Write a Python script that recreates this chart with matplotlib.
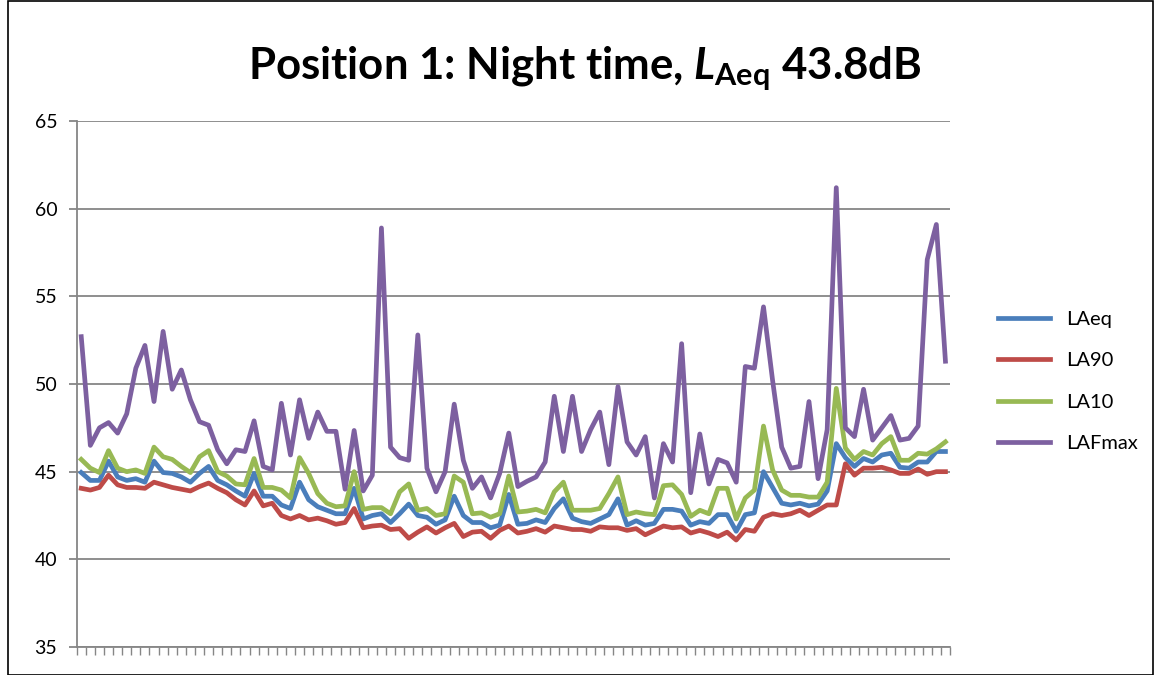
import matplotlib
matplotlib.use("Agg")
import matplotlib.pyplot as plt
import numpy as np

# 5-minute readings through the night (96 intervals)
laeq = [44.95, 44.5, 44.5, 45.6, 44.7, 44.5, 44.6, 44.4, 45.6, 44.95,
        44.9, 44.7, 44.4, 44.9, 45.3, 44.5, 44.25, 43.9, 43.6, 44.9,
        43.6, 43.6, 43.1, 42.9, 44.4, 43.4, 43.0, 42.8, 42.6, 42.6,
        44.05, 42.3, 42.5, 42.6, 42.1, 42.6, 43.15, 42.5, 42.4, 42.0,
        42.25, 43.6, 42.5, 42.1, 42.1, 41.8, 41.95, 43.7, 42.0, 42.05,
        42.25, 42.1, 42.9, 43.45, 42.35, 42.15, 42.05, 42.3, 42.55, 43.45,
        41.95, 42.2, 41.95, 42.05, 42.85, 42.85, 42.75, 41.95, 42.15, 42.05,
        42.55, 42.55, 41.6, 42.55, 42.65, 45.0, 44.1, 43.2, 43.1, 43.2,
        43.05, 43.15, 43.9, 46.6, 45.8, 45.3, 45.75, 45.55, 45.95, 46.05,
        45.25, 45.2, 45.55, 45.55, 46.15, 46.15]

la90 = [44.05, 43.95, 44.1, 44.8, 44.25, 44.1, 44.1, 44.05, 44.4, 44.25,
        44.1, 44.0, 43.9, 44.15, 44.35, 44.05, 43.8, 43.4, 43.1, 43.9,
        43.05, 43.2, 42.5, 42.3, 42.5, 42.25, 42.35, 42.2, 42.0, 42.1,
        42.9, 41.8, 41.9, 41.95, 41.7, 41.75, 41.2, 41.55, 41.85, 41.5,
        41.8, 42.05, 41.3, 41.55, 41.6, 41.2, 41.65, 41.9, 41.5, 41.6,
        41.75, 41.55, 41.9, 41.8, 41.7, 41.7, 41.6, 41.85, 41.8, 41.8,
        41.65, 41.75, 41.4, 41.65, 41.9, 41.8, 41.85, 41.5, 41.65, 41.5,
        41.3, 41.55, 41.1, 41.7, 41.6, 42.4, 42.6, 42.5, 42.6, 42.8,
        42.5, 42.8, 43.1, 43.1, 45.45, 44.8, 45.2, 45.2, 45.25, 45.1,
        44.9, 44.9, 45.15, 44.85, 45.0, 45.0]

la10 = [45.7, 45.2, 44.95, 46.2, 45.2, 45.0, 45.1, 44.9, 46.4, 45.85,
        45.7, 45.3, 44.95, 45.85, 46.2, 45.0, 44.75, 44.3, 44.25, 45.75,
        44.1, 44.1, 43.95, 43.5, 45.8, 44.9, 43.75, 43.2, 43.0, 43.05,
        45.0, 42.85, 42.95, 42.95, 42.6, 43.85, 44.3, 42.8, 42.9, 42.5,
        42.6, 44.75, 44.4, 42.6, 42.65, 42.4, 42.6, 44.75, 42.7, 42.75,
        42.85, 42.65, 43.85, 44.4, 42.8, 42.8, 42.8, 42.9, 43.75, 44.7,
        42.55, 42.7, 42.6, 42.55, 44.2, 44.25, 43.7, 42.45, 42.8, 42.6,
        44.05, 44.05, 42.3, 43.5, 43.95, 47.6, 45.1, 43.95, 43.65, 43.65,
        43.55, 43.55, 44.4, 49.75, 46.35, 45.7, 46.15, 45.95, 46.6, 47.0,
        45.65, 45.65, 46.05, 46.0, 46.3, 46.7]

lafmax = [52.7, 46.5, 47.5, 47.8, 47.2, 48.3, 50.9, 52.2, 49.0, 53.0,
          49.7, 50.8, 49.1, 47.85, 47.65, 46.25, 45.45, 46.25, 46.15, 47.9,
          45.3, 45.1, 48.9, 45.95, 49.1, 46.9, 48.4, 47.3, 47.3, 44.0,
          47.35, 43.9, 44.8, 58.9, 46.4, 45.8, 45.65, 52.8, 45.2, 43.85,
          45.0, 48.85, 45.65, 44.05, 44.7, 43.5, 44.9, 47.2, 44.15, 44.45,
          44.7, 45.55, 49.3, 46.15, 49.3, 46.15, 47.4, 48.4, 45.4, 49.85,
          46.7, 45.95, 47.0, 43.5, 46.6, 45.55, 52.3, 43.8, 47.15, 44.3,
          45.7, 45.5, 44.4, 51.0, 50.9, 54.4, 50.2, 46.4, 45.2, 45.3,
          49.0, 44.6, 47.4, 61.2, 47.5, 47.0, 49.7, 46.8, 47.5, 48.2,
          46.8, 46.9, 47.6, 57.1, 59.1, 51.3]

series = [("LAeq", laeq, "#4A7EBB"),
          ("LA90", la90, "#BE4B48"),
          ("LA10", la10, "#98B954"),
          ("LAFmax", lafmax, "#7D60A0")]

plt.rcParams["font.family"] = ["Lato", "DejaVu Sans"]
plt.rcParams["mathtext.fontset"] = "custom"
plt.rcParams["mathtext.it"] = "Lato:italic:bold"
plt.rcParams["mathtext.bf"] = "Lato:bold"
plt.rcParams["mathtext.rm"] = "Lato:bold"

fig = plt.figure(figsize=(11.55, 6.75), dpi=100)
ax = fig.add_axes([0.0664, 0.0415, 0.7561, 0.7792])

x = np.arange(len(laeq))
for name, vals, col in series:
    ax.plot(x, vals, color=col, lw=3.4, label=name, solid_joinstyle="round")

ax.set_xlim(-0.5, len(laeq) - 0.5)
ax.set_ylim(35, 65)
ax.set_yticks(np.arange(35, 66, 5))
ax.yaxis.grid(True, color="#868686", lw=1.3)
ax.set_axisbelow(True)

ax.set_xticks(np.arange(-0.5, len(laeq), 1.0))
ax.set_xticklabels([])
ax.tick_params(axis="x", length=6, width=1, color="#868686", direction="out")
ax.tick_params(axis="y", length=6, width=1.3, color="#868686", labelsize=14, pad=8)

for s in ["top", "right"]:
    ax.spines[s].set_visible(False)
for s in ["left", "bottom"]:
    ax.spines[s].set_color("#868686")
    ax.spines[s].set_linewidth(1.3)

fig.text(0.506, 0.898, r"Position 1: Night time, $\mathit{L}_{\mathbf{Aeq}}$ 43.8dB",
         ha="center", va="center", fontsize=31.5, fontweight="bold")

leg = fig.legend(loc="center left", bbox_to_anchor=(0.848, 0.435), frameon=False,
                 fontsize=14.5, handlelength=2.6, labelspacing=1.2)

fig.patches.append(plt.Rectangle((0.007, 0.0), 0.991, 0.998, transform=fig.transFigure,
                                 fill=False, edgecolor="black", lw=1.2))

fig.savefig("out.png", dpi=100)
